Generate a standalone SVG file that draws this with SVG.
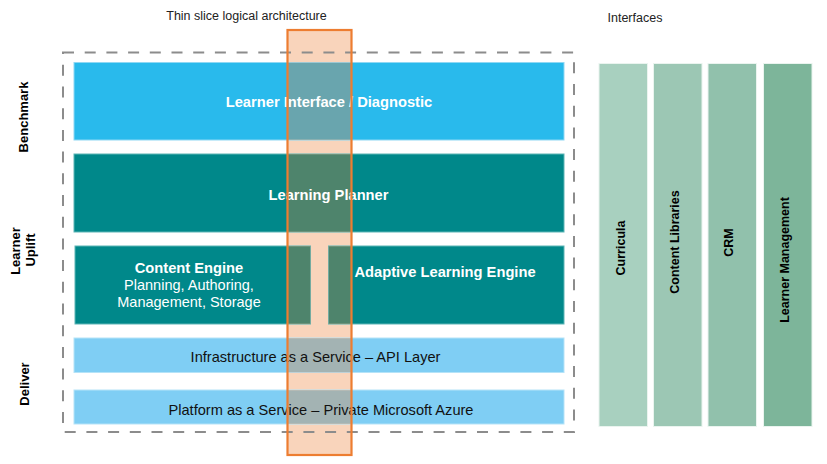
<svg xmlns="http://www.w3.org/2000/svg" width="827" height="464" viewBox="0 0 827 464">
<style>
  text { font-family: "Liberation Sans", Arial, sans-serif; }
  .hdr { font-size: 12.5px; fill: #222222; }
  .side { font-size: 13px; font-weight: bold; fill: #000000; text-anchor: middle; }
  .ifc { font-size: 12.5px; font-weight: bold; fill: #000000; text-anchor: middle; }
  .wb { font-size: 14.7px; font-weight: bold; fill: #ffffff; text-anchor: middle; }
  .wr { font-size: 14.5px; fill: #ffffff; text-anchor: middle; }
  .dr { font-size: 14.6px; fill: #111111; text-anchor: middle; }
  .blue { fill: #29BAEC; stroke: #8FD8F4; stroke-width: 1; }
  .teal { fill: #00888A; stroke: #5DB5B6; stroke-width: 1; }
  .lblue { fill: #7FCEF4; stroke: #B5E3F8; stroke-width: 1; }
  .col { stroke: #EAF4EF; stroke-width: 1; }
  .ov { fill: #ED7D31; fill-opacity: 0.33; }
</style>

<g id="titles">
  <text class="hdr" x="246.5" y="20" text-anchor="middle">Thin slice logical architecture</text>
  <text class="hdr" x="607.5" y="22">Interfaces</text>
</g>

<g id="side-labels">
  <text class="side" transform="translate(28,117) rotate(-90)">Benchmark</text>
  <text class="side" transform="translate(20,251) rotate(-90)">Learner</text>
  <text class="side" transform="translate(34.5,250) rotate(-90)">Uplift</text>
  <text class="side" transform="translate(29,384) rotate(-90)">Deliver</text>
</g>

<g id="thin-slice-fill">
  <rect class="ov" x="287.5" y="30" width="64" height="425"/>
</g>

<g id="boundary">
  <rect x="63" y="52.5" width="511" height="379.5" fill="none" stroke="#8C8C8C" stroke-width="2" stroke-dasharray="11 10.7"/>
</g>

<g id="learner-interface">
  <rect class="blue" x="74" y="62.5" width="490" height="77.5"/>
  <rect class="ov" x="287.5" y="62.5" width="64" height="77.5"/>
  <text class="wb" x="329" y="107">Learner Interface / Diagnostic</text>
</g>

<g id="learning-planner">
  <rect class="teal" x="74" y="154" width="490" height="78"/>
  <rect class="ov" x="287.5" y="154" width="64" height="78"/>
  <text class="wb" x="328.5" y="200">Learning Planner</text>
</g>

<g id="content-engine">
  <rect class="teal" x="75" y="246" width="235.5" height="78"/>
  <rect class="ov" x="287.5" y="246" width="23" height="78"/>
  <text class="wb" x="189" y="273">Content Engine</text>
  <text class="wr" x="189" y="290">Planning, Authoring,</text>
  <text class="wr" x="189" y="306.5">Management, Storage</text>
</g>

<g id="adaptive-learning-engine">
  <rect class="teal" x="328.5" y="246" width="235.5" height="78"/>
  <rect class="ov" x="328.5" y="246" width="23" height="78"/>
  <text class="wb" x="445" y="277">Adaptive Learning Engine</text>
</g>

<g id="iaas">
  <rect class="lblue" x="74" y="338" width="490" height="34.5"/>
  <rect class="ov" x="287.5" y="338" width="64" height="34.5"/>
  <text class="dr" x="315.5" y="362">Infrastructure as a Service – API Layer</text>
</g>

<g id="paas">
  <rect class="lblue" x="74" y="390" width="490" height="34"/>
  <rect class="ov" x="287.5" y="390" width="64" height="34"/>
  <text class="dr" x="321" y="415">Platform as a Service – Private Microsoft Azure</text>
</g>

<g id="thin-slice">
  <rect x="287.5" y="30" width="64" height="425" fill="none" stroke="#ED7D31" stroke-width="2.2"/>
</g>

<g id="curricula">
  <rect class="col" x="599" y="63.5" width="48.5" height="363" fill="#A8D0BF"/>
  <text class="ifc" transform="translate(625,248) rotate(-90)">Curricula</text>
</g>
<g id="content-libraries">
  <rect class="col" x="653.5" y="63.5" width="48.5" height="363" fill="#9CC7B4"/>
  <text class="ifc" transform="translate(679,242) rotate(-90)">Content Libraries</text>
</g>
<g id="crm">
  <rect class="col" x="708" y="63.5" width="48.5" height="363" fill="#91C1AC"/>
  <text class="ifc" transform="translate(732.5,242.5) rotate(-90)">CRM</text>
</g>
<g id="learner-management">
  <rect class="col" x="763.5" y="63.5" width="48.5" height="363" fill="#7DB59A"/>
  <text class="ifc" transform="translate(789,260) rotate(-90)">Learner Management</text>
</g>

<g id="connectors"></g>
</svg>
